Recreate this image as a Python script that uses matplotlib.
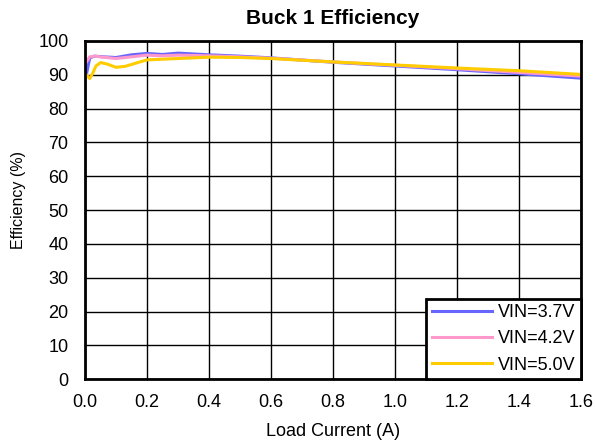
import matplotlib
matplotlib.use("Agg")
import matplotlib.pyplot as plt

plt.rcParams['font.family'] = ['Liberation Sans', 'DejaVu Sans']

# load current (A) and efficiency (%)
i_37 = [0.005, 0.015, 0.03, 0.06, 0.1, 0.15, 0.2, 0.25, 0.3, 0.4, 0.5, 0.6, 0.8, 1.0, 1.2, 1.4, 1.6]
eff_37 = [90.4, 95.0, 95.5, 95.3, 95.1, 95.9, 96.3, 96.0, 96.4, 95.9, 95.5, 95.0, 93.7, 92.6, 91.5, 90.3, 89.0]

i_42 = [0.005, 0.015, 0.03, 0.06, 0.1, 0.15, 0.2, 0.25, 0.3, 0.4, 0.5, 0.6, 0.8, 1.0, 1.2, 1.4, 1.6]
eff_42 = [93.9, 95.3, 95.5, 95.2, 94.8, 95.3, 95.8, 95.6, 95.8, 95.6, 95.3, 94.9, 93.8, 92.8, 91.8, 90.7, 89.6]

i_50 = [0.005, 0.015, 0.025, 0.035, 0.05, 0.07, 0.1, 0.13, 0.17, 0.2, 0.25, 0.3, 0.4, 0.5, 0.6, 0.8, 1.0, 1.2, 1.4, 1.6]
eff_50 = [89.9, 88.9, 90.5, 92.6, 93.6, 93.2, 92.2, 92.5, 93.6, 94.4, 94.6, 94.8, 95.2, 95.1, 94.8, 93.8, 92.9, 92.0, 91.2, 90.1]

series = [
    (i_37, eff_37, 'VIN=3.7V', '#6666ff'),
    (i_42, eff_42, 'VIN=4.2V', '#ff99cc'),
    (i_50, eff_50, 'VIN=5.0V', '#ffcc00'),
]

fig = plt.figure(figsize=(5.95, 4.45), dpi=100)
ax = fig.add_axes([0.143, 0.148, 0.833, 0.760])

for x, y, lab, col in series:
    ax.plot(x, y, color=col, lw=2.2, label=lab)

ax.set_xlim(0, 1.6)
ax.set_ylim(0, 100)
ax.set_xticks([0.2 * k for k in range(9)])
ax.set_xticklabels(['%.1f' % (0.2 * k) for k in range(9)])
ax.set_yticks(range(0, 101, 10))
ax.grid(True, color='black', lw=1)
for s in ax.spines.values():
    s.set_linewidth(2)
ax.tick_params(length=0, labelsize=13)
ax.tick_params(axis='x', pad=11)
ax.tick_params(axis='y', pad=12)

ax.set_title('Buck 1 Efficiency', fontsize=15, fontweight='bold', pad=12)
ax.set_xlabel('Load Current (A)', fontsize=13, labelpad=8)
ax.set_ylabel('Efficiency (%)', fontsize=11.5)
ax.yaxis.set_label_coords(-0.12, 0.53)

leg = ax.legend(loc='lower right', fontsize=13, fancybox=False, framealpha=1,
                borderaxespad=0, handlelength=3.35, handletextpad=0.3,
                borderpad=0.3, labelspacing=0.52)
leg.get_frame().set_edgecolor('black')
leg.get_frame().set_linewidth(2)

fig.savefig('out.png', dpi=100)
